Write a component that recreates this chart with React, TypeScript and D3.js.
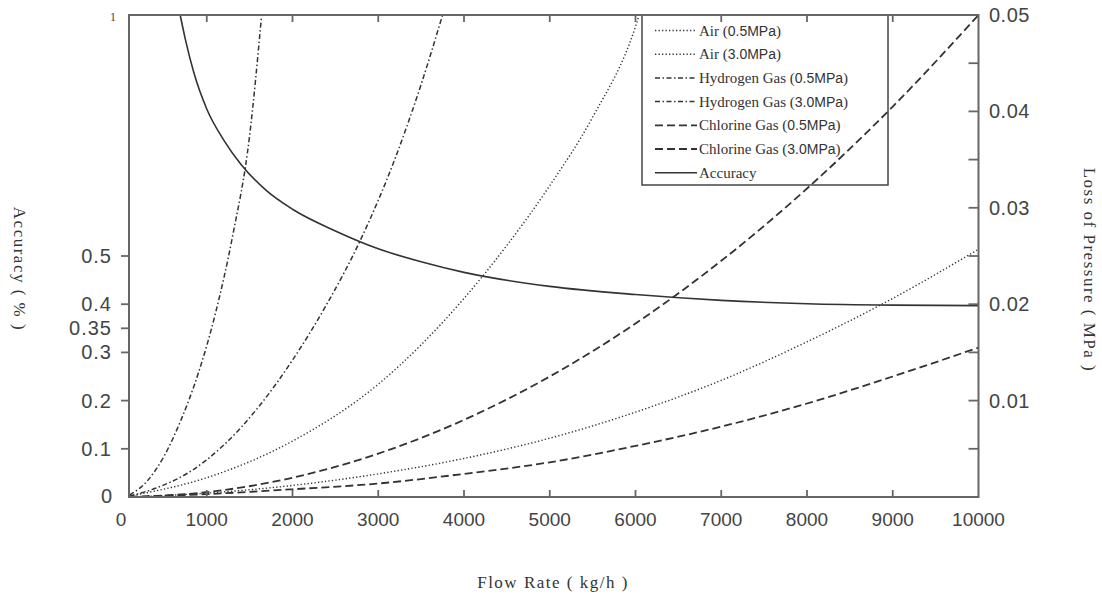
import * as d3 from "d3";

// ---- data ----
const flowTicks = [0, 1000, 2000, 3000, 4000, 5000, 6000, 7000, 8000, 9000, 10000];
const accuracyTicks = [0.1, 0.2, 0.3, 0.35, 0.4, 0.5];
const lossMinorTicks = [0.005, 0.01, 0.015, 0.02, 0.025, 0.03, 0.035, 0.04, 0.045];
const lossLabelTicks = [0.01, 0.02, 0.03, 0.04, 0.05];

// Air (0.5MPa)
const air05Flow = [100, 1000, 2000, 3000, 4000, 4500, 5000, 5500, 6000, 6050];
const air05Loss = [0.0001, 0.002, 0.0058, 0.0117, 0.0206, 0.0261, 0.0323, 0.0394, 0.0488, 0.0502];
// Air (3.0MPa)
const air30Flow = [100, 1000, 2000, 3000, 4000, 5000, 6000, 7000, 8000, 9000, 10000];
const air30Loss = [0, 0.0004, 0.0012, 0.0024, 0.004, 0.0061, 0.0088, 0.0121, 0.0161, 0.0206, 0.0257];
// Hydrogen Gas (0.5MPa)
const h205Flow = [100, 300, 500, 700, 900, 1100, 1300, 1500, 1640];
const h205Loss = [0.0002, 0.0016, 0.0042, 0.008, 0.0128, 0.019, 0.027, 0.0375, 0.05];
// Hydrogen Gas (3.0MPa)
const h230Flow = [100, 400, 800, 1200, 1600, 2000, 2400, 2800, 3200, 3500, 3750];
const h230Loss = [0.0001, 0.0009, 0.0026, 0.0054, 0.0093, 0.0142, 0.02, 0.0268, 0.0352, 0.0428, 0.05];
// Chlorine Gas (0.5MPa)
const cl05Flow = [100, 1000, 2000, 3000, 4000, 5000, 6000, 7000, 8000, 9000, 10000];
const cl05Loss = [0, 0.0005, 0.002, 0.0045, 0.008, 0.0125, 0.018, 0.0245, 0.032, 0.0405, 0.05];
// Chlorine Gas (3.0MPa)
const cl30Flow = [100, 1000, 2000, 3000, 4000, 5000, 6000, 7000, 8000, 9000, 10000];
const cl30Loss = [0, 0.0003, 0.0008, 0.0014, 0.0024, 0.0036, 0.0053, 0.0073, 0.0097, 0.0125, 0.0155];
// Accuracy (left axis)
const accFlow = [690, 750, 850, 1000, 1200, 1400, 1700, 2000, 2500, 3000, 3500, 4000, 5000, 6000, 7000, 8000, 9000, 10000];
const accValue = [1.0, 0.95, 0.88, 0.805, 0.74, 0.69, 0.635, 0.597, 0.552, 0.515, 0.488, 0.466, 0.437, 0.42, 0.408, 0.401, 0.398, 0.397];

const SANS = "'Liberation Sans', Arial, sans-serif";
const SERIF = "'Liberation Serif', 'Times New Roman', serif";
const INK = "#333";

const DOTTED = "1.3,2.2";
const DASHDOT = "5,2.5,1.5,2.5";
const DASHED = "8,4";

const series = [
  { name: "Air", pressure: "0.5MPa", flow: air05Flow, values: air05Loss, axis: "loss", dash: DOTTED, width: 1.4 },
  { name: "Air", pressure: "3.0MPa", flow: air30Flow, values: air30Loss, axis: "loss", dash: DOTTED, width: 1.4 },
  { name: "Hydrogen Gas", pressure: "0.5MPa", flow: h205Flow, values: h205Loss, axis: "loss", dash: DASHDOT, width: 1.5 },
  { name: "Hydrogen Gas", pressure: "3.0MPa", flow: h230Flow, values: h230Loss, axis: "loss", dash: DASHDOT, width: 1.5 },
  { name: "Chlorine Gas", pressure: "0.5MPa", flow: cl05Flow, values: cl05Loss, axis: "loss", dash: DASHED, width: 1.8 },
  { name: "Chlorine Gas", pressure: "3.0MPa", flow: cl30Flow, values: cl30Loss, axis: "loss", dash: DASHED, width: 1.8 },
  { name: "Accuracy", pressure: "", flow: accFlow, values: accValue, axis: "acc", dash: "none", width: 1.6 },
];

const W = 1102;
const H = 600;
const frame = { left: 129, right: 978.5, top: 15, bottom: 497 };

export default function App() {
  const x = d3.scaleLinear().domain([0, 10000]).range([121, frame.right]);
  const yAcc = d3.scaleLinear().domain([0, 1]).range([frame.bottom, frame.top]);
  const yLoss = d3.scaleLinear().domain([0, 0.05]).range([frame.bottom, frame.top]);

  const pathFor = (s: (typeof series)[number]) => {
    const y = s.axis === "acc" ? yAcc : yLoss;
    const pts: [number, number][] = s.flow.map((f, i) => [x(f), y(s.values[i])]);
    return d3.line().curve(d3.curveMonotoneX)(pts) || "";
  };

  const legendX = 642;
  const legendTop = frame.top;
  const legendW = 246;
  const legendH = 170;

  return (
    <svg
      width={W}
      height={H}
      style={{ position: "absolute", left: 0, top: 0, background: "#fff" }}
    >
      <defs>
        <clipPath id="plot">
          <rect x={frame.left} y={frame.top - 1} width={frame.right - frame.left} height={frame.bottom - frame.top + 1} />
        </clipPath>
      </defs>

      {/* legend */}
      <rect x={legendX} y={legendTop} width={legendW} height={legendH} fill="none" stroke="#444" strokeWidth={1.5} />
      {series.map((s, i) => {
        const cy = 30.5 + i * 23.7;
        return (
          <g key={"lg" + i}>
            <line x1={655} x2={697} y1={cy} y2={cy} stroke={INK} strokeWidth={s.width} strokeDasharray={s.dash} />
            <text x={699} y={cy + 5} fontFamily={SERIF} fontSize={15} fill={INK}>
              {s.name}
              {s.pressure && (
                <>
                  {" ("}
                  <tspan fontFamily={SANS} fontSize={14}>{s.pressure}</tspan>
                  {")"}
                </>
              )}
            </text>
          </g>
        );
      })}

      {/* curves */}
      <g clipPath="url(#plot)">
        {series.map((s, i) => (
          <path
            key={"s" + i}
            d={pathFor(s)}
            fill="none"
            stroke={INK}
            strokeWidth={s.width}
            strokeDasharray={s.dash}
          />
        ))}
      </g>

      {/* frame */}
      <rect
        x={frame.left}
        y={frame.top}
        width={frame.right - frame.left}
        height={frame.bottom - frame.top}
        fill="none"
        stroke="#666"
        strokeWidth={2}
      />

      {/* bottom & top ticks */}
      {flowTicks.map((t) => (
        <g key={"xt" + t}>
          {t > 0 && t < 10000 && (
            <>
              <line x1={x(t)} x2={x(t)} y1={frame.bottom} y2={frame.bottom - 7} stroke="#666" strokeWidth={1.8} />
              <line x1={x(t)} x2={x(t)} y1={frame.top} y2={frame.top + 7} stroke="#666" strokeWidth={1.8} />
            </>
          )}
          <text x={x(t)} y={526} textAnchor="middle" fontFamily={SANS} fontSize={19} fill="#444">
            {t}
          </text>
        </g>
      ))}

      {/* left axis ticks */}
      {accuracyTicks.map((t) => (
        <g key={"ya" + t}>
          <line x1={frame.left - 8} x2={frame.left} y1={yAcc(t)} y2={yAcc(t)} stroke="#666" strokeWidth={1.8} />
          <text x={112} y={yAcc(t)} dy="0.35em" textAnchor="end" fontFamily={SANS} fontSize={20} letterSpacing={1} fill="#444">
            {t}
          </text>
        </g>
      ))}
      <text x={112} y={yAcc(0)} dy="0.3em" textAnchor="end" fontFamily={SANS} fontSize={20} fill="#444">
        0
      </text>
      <text x={116} y={yAcc(1) + 2} dy="0.35em" textAnchor="end" fontFamily={SERIF} fontSize={12} fill="#444">
        1
      </text>

      {/* right axis ticks */}
      {lossMinorTicks.map((t) => (
        <line key={"yl" + t} x1={frame.right - 10} x2={frame.right} y1={yLoss(t)} y2={yLoss(t)} stroke="#666" strokeWidth={1.8} />
      ))}
      {lossLabelTicks.map((t) => (
        <text key={"yll" + t} x={989} y={yLoss(t)} dy="0.35em" fontFamily={SANS} fontSize={20} letterSpacing={0.5} fill="#444">
          {t.toFixed(2)}
        </text>
      ))}

      {/* axis titles */}
      <text x={553} y={588} textAnchor="middle" fontFamily={SERIF} fontSize={17} letterSpacing={1.5} fill={INK}>
        Flow Rate ( kg/h )
      </text>
      <text
        transform={`translate(19, 269) rotate(90)`}
        textAnchor="middle"
        dominantBaseline="central"
        fontFamily={SERIF}
        fontSize={17}
        letterSpacing={1.5}
        fill={INK}
      >
        Accuracy ( % )
      </text>
      <text
        transform={`translate(1089, 270) rotate(90)`}
        textAnchor="middle"
        dominantBaseline="central"
        fontFamily={SERIF}
        fontSize={17}
        letterSpacing={1.5}
        fill={INK}
      >
        Loss of Pressure ( MPa )
      </text>
    </svg>
  );
}
